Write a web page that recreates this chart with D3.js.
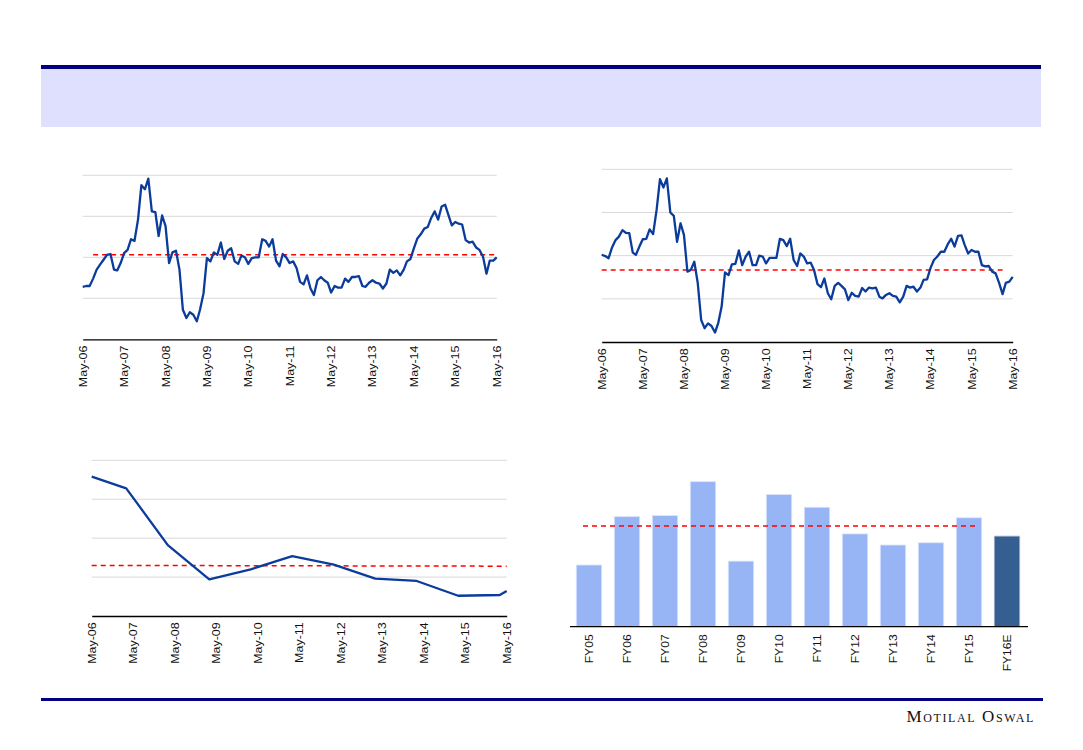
<!DOCTYPE html>
<html>
<head>
<meta charset="utf-8">
<script src="https://cdn.jsdelivr.net/npm/d3@7"></script>
<style>
  body { margin: 0; background: #fff; }
  svg { display: block; }
  .tick-label { font-family: "Liberation Sans", Arial, sans-serif; fill: #111; }
</style>
</head>
<body>
<div id="page"></div>
<script>
// ---- data ----
const yearTicks = ["May-06", "May-07", "May-08", "May-09", "May-10", "May-11",
                   "May-12", "May-13", "May-14", "May-15", "May-16"];

// top-left: monthly, May-06 .. May-16
const tlValues = [16.4, 16.5, 16.5, 17.4, 18.5, 19.1, 19.7, 20.3, 20.4, 18.5, 18.4, 19.3,
  20.5, 20.9, 22.2, 22.0, 24.6, 28.8, 28.3, 29.6, 25.6, 25.5, 22.6, 25.1,
  23.8, 19.3, 20.6, 20.8, 18.5, 13.6, 12.6, 13.3, 13.0, 12.2, 13.6, 15.6,
  19.9, 19.5, 20.6, 20.3, 21.8, 19.8, 20.8, 21.1, 19.5, 19.2, 20.2, 20.0,
  19.2, 19.9, 20.0, 20.0, 22.2, 22.0, 21.3, 22.2, 19.6, 18.9, 20.4, 20.0,
  19.3, 19.5, 18.7, 17.0, 16.7, 17.8, 16.2, 15.4, 17.2, 17.6, 17.2, 16.9,
  15.7, 16.5, 16.3, 16.3, 17.4, 17.0, 17.6, 17.6, 17.7, 16.5, 16.4, 16.9,
  17.2, 16.9, 16.8, 16.2, 16.8, 18.5, 18.1, 18.4, 17.8, 18.5, 19.5, 19.8,
  21.1, 22.3, 22.8, 23.5, 23.7, 24.8, 25.6, 24.6, 26.2, 26.4, 25.2, 23.9,
  24.3, 24.1, 24.0, 22.1, 21.8, 21.9, 21.2, 20.9, 20.1, 18.0, 19.6, 19.6,
  20.0];
const tlAvg = 20.3;

// top-right: monthly, May-06 .. May-16
const trValues = [3.02, 2.99, 2.94, 3.19, 3.36, 3.44, 3.59, 3.53, 3.52, 3.07, 3.02, 3.21,
  3.38, 3.39, 3.61, 3.50, 4.06, 4.77, 4.58, 4.79, 4.00, 3.92, 3.32, 3.75,
  3.48, 2.63, 2.67, 2.86, 2.36, 1.51, 1.32, 1.43, 1.37, 1.22, 1.43, 1.82,
  2.61, 2.55, 2.80, 2.81, 3.12, 2.78, 2.98, 3.09, 2.78, 2.78, 3.00, 2.98,
  2.82, 2.95, 2.95, 2.95, 3.39, 3.36, 3.22, 3.39, 2.90, 2.76, 3.05, 2.98,
  2.82, 2.84, 2.67, 2.34, 2.27, 2.47, 2.13, 1.99, 2.30, 2.37, 2.30, 2.22,
  1.97, 2.14, 2.07, 2.05, 2.25, 2.17, 2.26, 2.24, 2.26, 2.05, 2.01, 2.09,
  2.13, 2.07, 2.05, 1.92, 2.05, 2.30, 2.26, 2.28, 2.17, 2.26, 2.44, 2.45,
  2.71, 2.90, 2.98, 3.09, 3.09, 3.26, 3.39, 3.21, 3.46, 3.47, 3.25, 3.05,
  3.13, 3.09, 3.09, 2.78, 2.75, 2.76, 2.63, 2.59, 2.37, 2.11, 2.37, 2.40,
  2.51];
const trAvg = 2.67;

// bottom-left: yearly points
const blDates = ["2006-05", "2007-03", "2008-03", "2009-03", "2010-03", "2011-03",
                 "2012-03", "2013-03", "2014-03", "2015-03", "2016-03", "2016-05"];
const blValues = [17.9, 16.4, 9.1, 4.7, 6.0, 7.7, 6.6, 4.8, 4.5, 2.6, 2.7, 3.2];
const blAvg = [6.5, 6.4];

// bottom-right: bars
const brCategories = ["FY05", "FY06", "FY07", "FY08", "FY09", "FY10",
                      "FY11", "FY12", "FY13", "FY14", "FY15", "FY16E"];
const brValues = [11.1, 19.8, 20.0, 26.1, 11.8, 23.8, 21.5, 16.7, 14.7, 15.1, 19.6, 16.3];
const brAvg = 18.1;

// ---- drawing ----
const W = 1083, H = 750;
const navy = "#000080", lineBlue = "#0b3b9b", red = "#ff0000", grid = "#d9d9d9";
const parseMonth = d3.timeParse("%Y-%m");
const fmt = d3.timeFormat("%b-%y");

const svg = d3.select("#page").append("svg")
    .attr("width", W)
    .attr("height", H);

// header band
svg.append("rect").attr("x", 41).attr("y", 65).attr("width", 1000).attr("height", 4).attr("fill", navy);
svg.append("rect").attr("x", 41).attr("y", 69).attr("width", 1000).attr("height", 58).attr("fill", "#dfe0fd");

// footer
svg.append("rect").attr("x", 41).attr("y", 698).attr("width", 1002).attr("height", 3).attr("fill", navy);
svg.append("text")
    .attr("x", 1035).attr("y", 722)
    .attr("text-anchor", "end")
    .style("font-family", "'Liberation Serif', 'DejaVu Serif', serif")
    .style("font-size", "17px")
    .style("font-variant", "small-caps")
    .style("letter-spacing", "1.6px")
    .attr("fill", "#111")
    .text("Motilal Oswal");

const monthly = d3.timeMonth.range(parseMonth("2006-05"), d3.timeMonth.offset(parseMonth("2016-05"), 1));
const yearDates = yearTicks.map(t => d3.timeParse("%b-%y")(t));

function lineChart(opt) {
    const g = svg.append("g");
    const x = d3.scaleTime().domain([parseMonth("2006-05"), parseMonth("2016-05")]).range(opt.xr);
    const y = d3.scaleLinear().domain(opt.yd).range(opt.yr);

    // gridlines
    g.selectAll(".grid").data(opt.grids).enter().append("line")
        .attr("x1", opt.xr[0]).attr("x2", opt.xr[1])
        .attr("y1", d => y(d)).attr("y2", d => y(d))
        .attr("stroke", grid).attr("stroke-width", 1);

    // x axis
    const ax = g.append("g")
        .attr("transform", "translate(0," + opt.yr[0] + ")")
        .call(d3.axisBottom(x).tickValues(yearDates).tickSize(0).tickFormat(fmt));
    ax.select(".domain").attr("stroke", "#000").attr("stroke-width", 1.3);
    ax.selectAll("text")
        .attr("class", "tick-label")
        .style("font-size", "10px")
        .attr("text-anchor", "end")
        .attr("transform", "rotate(-90) scale(1.25,1)")
        .attr("x", -5).attr("y", 0).attr("dy", "0.35em");

    // average
    g.append("line")
        .attr("x1", x(opt.avgFrom)).attr("x2", x(opt.avgTo))
        .attr("y1", y(opt.avg[0])).attr("y2", y(opt.avg[1]))
        .attr("stroke", red).attr("stroke-width", 1.5).attr("stroke-dasharray", "5,4");

    // series
    g.append("path")
        .datum(opt.dates.map((d, i) => [d, opt.values[i]]))
        .attr("fill", "none")
        .attr("stroke", lineBlue)
        .attr("stroke-width", 2.3)
        .attr("stroke-linejoin", "round")
        .attr("d", d3.line().x(d => x(d[0])).y(d => y(d[1])));
}

lineChart({
    xr: [82.7, 496.7], yd: [10, 30], yr: [339.3, 175.3], grids: [15, 20, 25, 30],
    dates: monthly, values: tlValues, avg: [tlAvg, tlAvg],
    avgFrom: parseMonth("2006-08"), avgTo: parseMonth("2016-05")
});

lineChart({
    xr: [601.7, 1012.7], yd: [1, 5], yr: [342, 169.3], grids: [2, 3, 4, 5],
    dates: monthly, values: trValues, avg: [trAvg, trAvg],
    avgFrom: parseMonth("2006-05"), avgTo: parseMonth("2016-02")
});

lineChart({
    xr: [91.7, 506.7], yd: [0, 20], yr: [616, 460.3], grids: [5, 10, 15, 20],
    dates: blDates.map(parseMonth), values: blValues, avg: blAvg,
    avgFrom: parseMonth("2006-05"), avgTo: parseMonth("2016-05")
});

// bar chart
(function () {
    const g = svg.append("g");
    const base = 626.7;
    const x = d3.scaleBand().domain(brCategories).range([570, 1026]).paddingInner(0.33).paddingOuter(0.165);
    const y = d3.scaleLinear().domain([0, 30]).range([base, 460]);

    g.selectAll(".bar").data(brCategories).enter().append("rect")
        .attr("class", "bar")
        .attr("x", d => x(d))
        .attr("width", x.bandwidth())
        .attr("y", (d, i) => y(brValues[i]))
        .attr("height", (d, i) => base - y(brValues[i]))
        .attr("fill", (d, i) => i === brCategories.length - 1 ? "#365f91" : "#97b4f4")
        .attr("stroke", (d, i) => i === brCategories.length - 1 ? "#aab8cc" : "#dce5fb")
        .attr("stroke-width", 0.8);

    const ax = g.append("g")
        .attr("transform", "translate(0," + base + ")")
        .call(d3.axisBottom(x).tickSize(0));
    ax.select(".domain").attr("d", "M0,0H458").attr("transform", "translate(570,0)")
        .attr("stroke", "#000").attr("stroke-width", 1.3);
    ax.selectAll("text")
        .attr("class", "tick-label")
        .style("font-size", "11px")
        .attr("text-anchor", "end")
        .attr("transform", "rotate(-90) scale(1.1,1)")
        .attr("x", -7).attr("y", 0).attr("dy", "0.35em");

    g.append("line")
        .attr("x1", x("FY05") + x.bandwidth() / 2 - 6)
        .attr("x2", x("FY15") + x.bandwidth() / 2 + 8)
        .attr("y1", y(brAvg)).attr("y2", y(brAvg))
        .attr("stroke", red).attr("stroke-width", 1.5).attr("stroke-dasharray", "5,4");
})();
</script>
</body>
</html>
